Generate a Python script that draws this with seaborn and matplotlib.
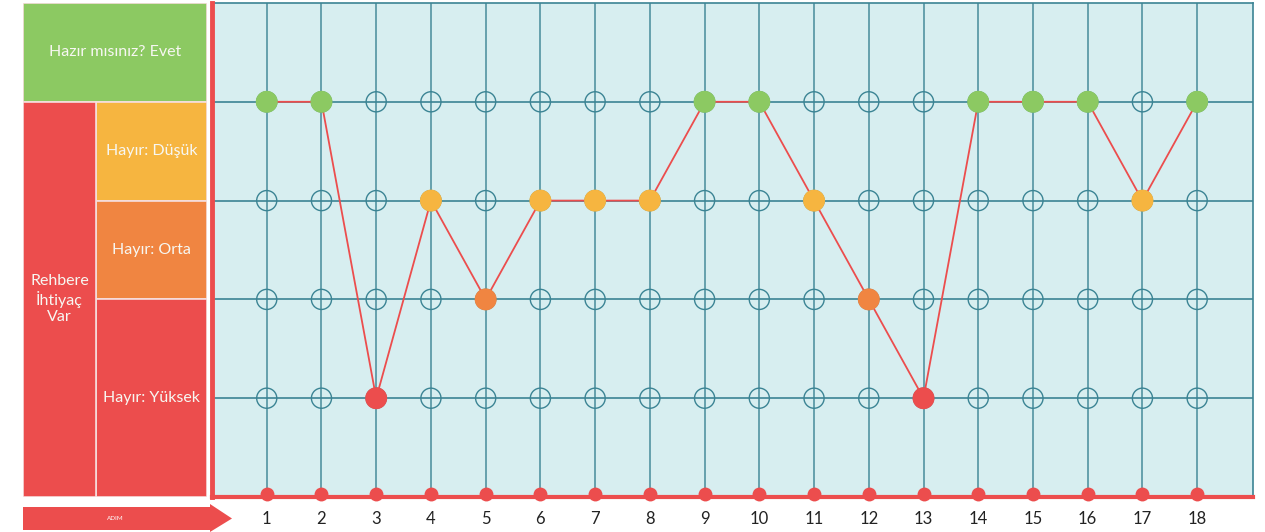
import matplotlib
matplotlib.use("Agg")
from matplotlib import pyplot as plt
from matplotlib.patches import Rectangle, Polygon
import seaborn as sns
import pandas as pd

# steps and the readiness level at each step (4 = Evet, 3 = Düşük, 2 = Orta, 1 = Yüksek)
steps = list(range(1, 19))
levels = [4, 4, 1, 3, 2, 3, 3, 3, 4, 4, 3, 2, 1, 4, 4, 4, 3, 4]
level_names = {4: "Evet", 3: "Düşük", 2: "Orta", 1: "Yüksek"}
level_colors = {4: "#8cc962", 3: "#f6b540", 2: "#f08541", 1: "#ec4d4d"}
grid_levels = [1, 2, 3, 4]

box_labels = ["Hazır mısınız? Evet", "Hayır: Düşük", "Hayır: Orta", "Hayır: Yüksek", "Rehbere\nİhtiyaç\nVar"]
arrow_label = "ADIM"

RED = "#ec4d4d"
GRID = "#3b8494"
BG = "#d7eef0"

sns.set_style("white")
plt.rcParams["font.family"] = ["Lato", "DejaVu Sans"]

df = pd.DataFrame({"step": steps, "level": levels})
df["name"] = df["level"].map(level_names)
grid_df = pd.DataFrame([(s, l) for s in steps for l in grid_levels], columns=["step", "level"])
base_df = pd.DataFrame({"step": steps, "level": [0.03] * len(steps)})

fig = plt.figure(figsize=(12.65, 5.32), dpi=100)
ax = fig.add_axes([212 / 1265, 35 / 532, 1041 / 1265, 494 / 532])
ax.set_facecolor(BG)

# grid
for s in steps:
    ax.axvline(s, color=GRID, lw=1.2, alpha=0.85, zorder=1)
for l in grid_levels:
    ax.axhline(l, color=GRID, lw=1.2, zorder=1)

sns.scatterplot(data=grid_df, x="step", y="level", ax=ax, s=210, facecolor="none",
                edgecolor=GRID, linewidth=1.0, zorder=2, legend=False)
sns.lineplot(data=df, x="step", y="level", ax=ax, color=RED, lw=1.3, zorder=3, legend=False)
sns.scatterplot(data=df, x="step", y="level", hue="name", ax=ax, s=250,
                palette={level_names[k]: v for k, v in level_colors.items()},
                linewidth=0, zorder=4, legend=False)
sns.scatterplot(data=base_df, x="step", y="level", ax=ax, s=100, color=RED,
                linewidth=0, zorder=6, legend=False, clip_on=False)

ax.set_xlim(0, 19.02)
ax.set_ylim(0, 5)
ax.set_xticks(steps)
ax.set_xticklabels([str(s) for s in steps])
ax.set_yticks([])
ax.tick_params(axis="x", length=0, pad=10, labelsize=12, labelcolor="#222222")
ax.set_xlabel("")
ax.set_ylabel("")
for side in ["top", "right"]:
    ax.spines[side].set_color(GRID)
    ax.spines[side].set_linewidth(1.2)
ax.spines["left"].set_color(RED)
ax.spines["left"].set_linewidth(3.5)
ax.spines["bottom"].set_color(RED)
ax.spines["bottom"].set_linewidth(3)
ax.spines["left"].set_zorder(7)
ax.spines["bottom"].set_zorder(5)

# left category panel
lp = fig.add_axes([23 / 1265, 35 / 532, 184 / 1265, 494 / 532])
lp.set_xlim(0, 184)
lp.set_ylim(0, 5)
lp.axis("off")
boxes = [
    (0, 4, 184, 1, level_colors[4], box_labels[0]),
    (73, 3, 111, 1, level_colors[3], box_labels[1]),
    (73, 2, 111, 1, level_colors[2], box_labels[2]),
    (73, 0, 111, 2, level_colors[1], box_labels[3]),
    (0, 0, 73, 4, level_colors[1], box_labels[4]),
]
for x0, y0, w, h, c, t in boxes:
    lp.add_patch(Rectangle((x0, y0), w, h, facecolor=c, edgecolor="#f6dede", lw=1.2))
    lp.text(x0 + w / 2, y0 + h / 2, t, ha="center", va="center", color="#f7f7f2",
            fontsize=11.5, linespacing=1.2)

# step arrow under the panel
aa = fig.add_axes([23 / 1265, 0, 210 / 1265, 30 / 532])
aa.set_xlim(0, 210)
aa.set_ylim(0, 30)
aa.axis("off")
aa.add_patch(Polygon([(0, 2), (187, 2), (187, 0), (209, 13.5), (187, 28), (187, 25), (0, 25)],
                     closed=True, facecolor=RED, edgecolor="none"))
aa.text(92, 13.5, arrow_label, ha="center", va="center", color="white", fontsize=4.5)

fig.savefig("out.png", dpi=100)
